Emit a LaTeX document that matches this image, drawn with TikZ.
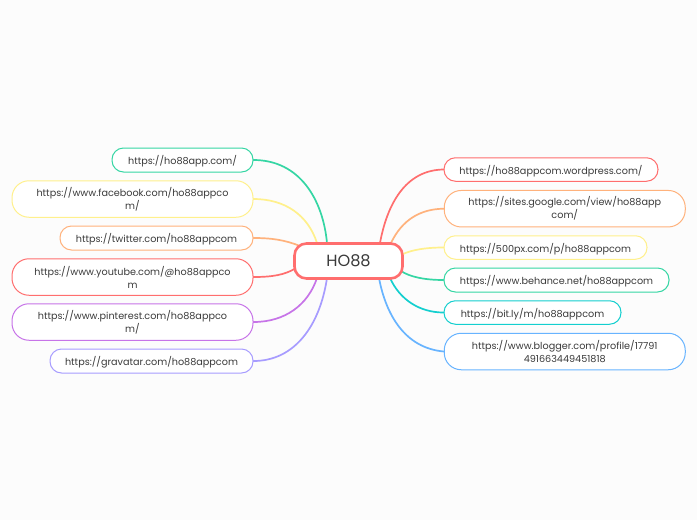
\documentclass[tikz,border=0pt]{standalone}
\usepackage{fontspec}
\setmainfont{Poppins}
\definecolor{bgc}{HTML}{FCFCFC}
\definecolor{txt}{HTML}{3A3A3A}
\definecolor{cgreen}{HTML}{35D6A4}
\definecolor{cyellow}{HTML}{FFF08C}
\definecolor{corange}{HTML}{FFB27C}
\definecolor{cred}{HTML}{FF6E6E}
\definecolor{cpurple}{HTML}{C774E8}
\definecolor{cviolet}{HTML}{A79CFF}
\definecolor{ccyan}{HTML}{14CFCF}
\definecolor{cblue}{HTML}{68B4FF}
\tikzset{
  topic/.style={draw=#1,line width=1pt,fill=white,rounded corners=11.5pt,inner sep=0pt,align=center,
    text=txt,font=\fontsize{9.65}{13}\selectfont,execute at begin node={\rule{0pt}{12pt}}},
  wide/.style={rounded corners=17pt,minimum width=241pt,minimum height=36.5pt},
  link/.style={draw=#1,line width=1.7pt,line cap=round},
  hubbox/.style={draw=cred,line width=2.6pt,fill=white,rounded corners=12pt,inner sep=0pt,
    text=txt,font=\fontsize{16.2}{20}\selectfont,minimum width=108pt,minimum height=35pt}
}
\begin{document}
\begin{tikzpicture}[x=1pt,y=-1pt]
\fill[bgc] (0,0) rectangle (697,520);
\useasboundingbox (0,0) rectangle (697,520);
\coordinate (hl1) at (327,243);
\coordinate (hl2) at (317,243);
\coordinate (hl3) at (300,246);
\coordinate (hl4) at (296,268);
\coordinate (hl5) at (317,278);
\coordinate (hl6) at (327,278);
\coordinate (hr1) at (380,243);
\coordinate (hr2) at (391,243);
\coordinate (hr3) at (403,254);
\coordinate (hr4) at (401,271);
\coordinate (hr5) at (390,278);
\coordinate (hr6) at (379,278);
\node[topic=cgreen,minimum width=141pt,minimum height=24pt] (l1) at (182.5,160) {https://ho88app.com/};
\node[topic=cyellow,wide] (l2) at (132.5,199) {https://www.facebook.com/ho88appco\\m/};
\node[topic=corange,minimum width=193pt,minimum height=24pt] (l3) at (156.5,238) {https://twitter.com/ho88appcom};
\node[topic=cred,wide] (l4) at (132.5,277) {https://www.youtube.com/@ho88appco\\m};
\node[topic=cpurple,wide] (l5) at (132.5,322) {https://www.pinterest.com/ho88appco\\m/};
\node[topic=cviolet,minimum width=203pt,minimum height=24pt] (l6) at (151.5,361) {https://gravatar.com/ho88appcom};
\node[topic=cred,minimum width=214pt,minimum height=23.5pt] (r1) at (551,169.5) {https://ho88appcom.wordpress.com/};
\node[topic=corange,wide] (r2) at (564.75,208.7) {https://sites.google.com/view/ho88app\\com/};
\node[topic=cyellow,minimum width=203pt,minimum height=23.5pt] (r3) at (545.5,247.5) {https://500px.com/p/ho88appcom};
\node[topic=cgreen,minimum width=225pt,minimum height=24pt] (r4) at (556.5,280) {https://www.behance.net/ho88appcom};
\node[topic=ccyan,minimum width=177pt,minimum height=23.5pt] (r5) at (532.5,312.5) {https://bit.ly/m/ho88appcom};
\node[topic=cblue,wide] (r6) at (564.75,351.5) {https://www.blogger.com/profile/17791\\491663449451818};
\draw[link=cgreen] (l1.east) .. controls (300,160) and (323,200) .. (hl1);
\draw[link=cyellow] (l2.east) .. controls (285,199) and (308,215) .. (hl2);
\draw[link=corange] (l3.east) .. controls (272,238) and (285,240) .. (hl3);
\draw[link=cred] (l4.east) .. controls (272,277) and (285,275) .. (hl4);
\draw[link=cpurple] (l5.east) .. controls (285,322) and (308,305) .. (hl5);
\draw[link=cviolet] (l6.east) .. controls (295,361) and (320,325) .. (hl6);
\draw[link=cred] (r1.west) .. controls (405,170) and (387,205) .. (hr1);
\draw[link=corange] (r2.west) .. controls (420,209) and (402,220) .. (hr2);
\draw[link=cyellow] (r3.west) .. controls (425,247.5) and (412,250) .. (hr3);
\draw[link=cgreen] (r4.west) .. controls (425,280) and (410,277) .. (hr4);
\draw[link=ccyan] (r5.west) .. controls (420,312.5) and (400,300) .. (hr5);
\draw[link=cblue] (r6.west) .. controls (405,348) and (386,315) .. (hr6);
\node[hubbox] (hub) at (348.5,261) {HO88};
\end{tikzpicture}
\end{document}
